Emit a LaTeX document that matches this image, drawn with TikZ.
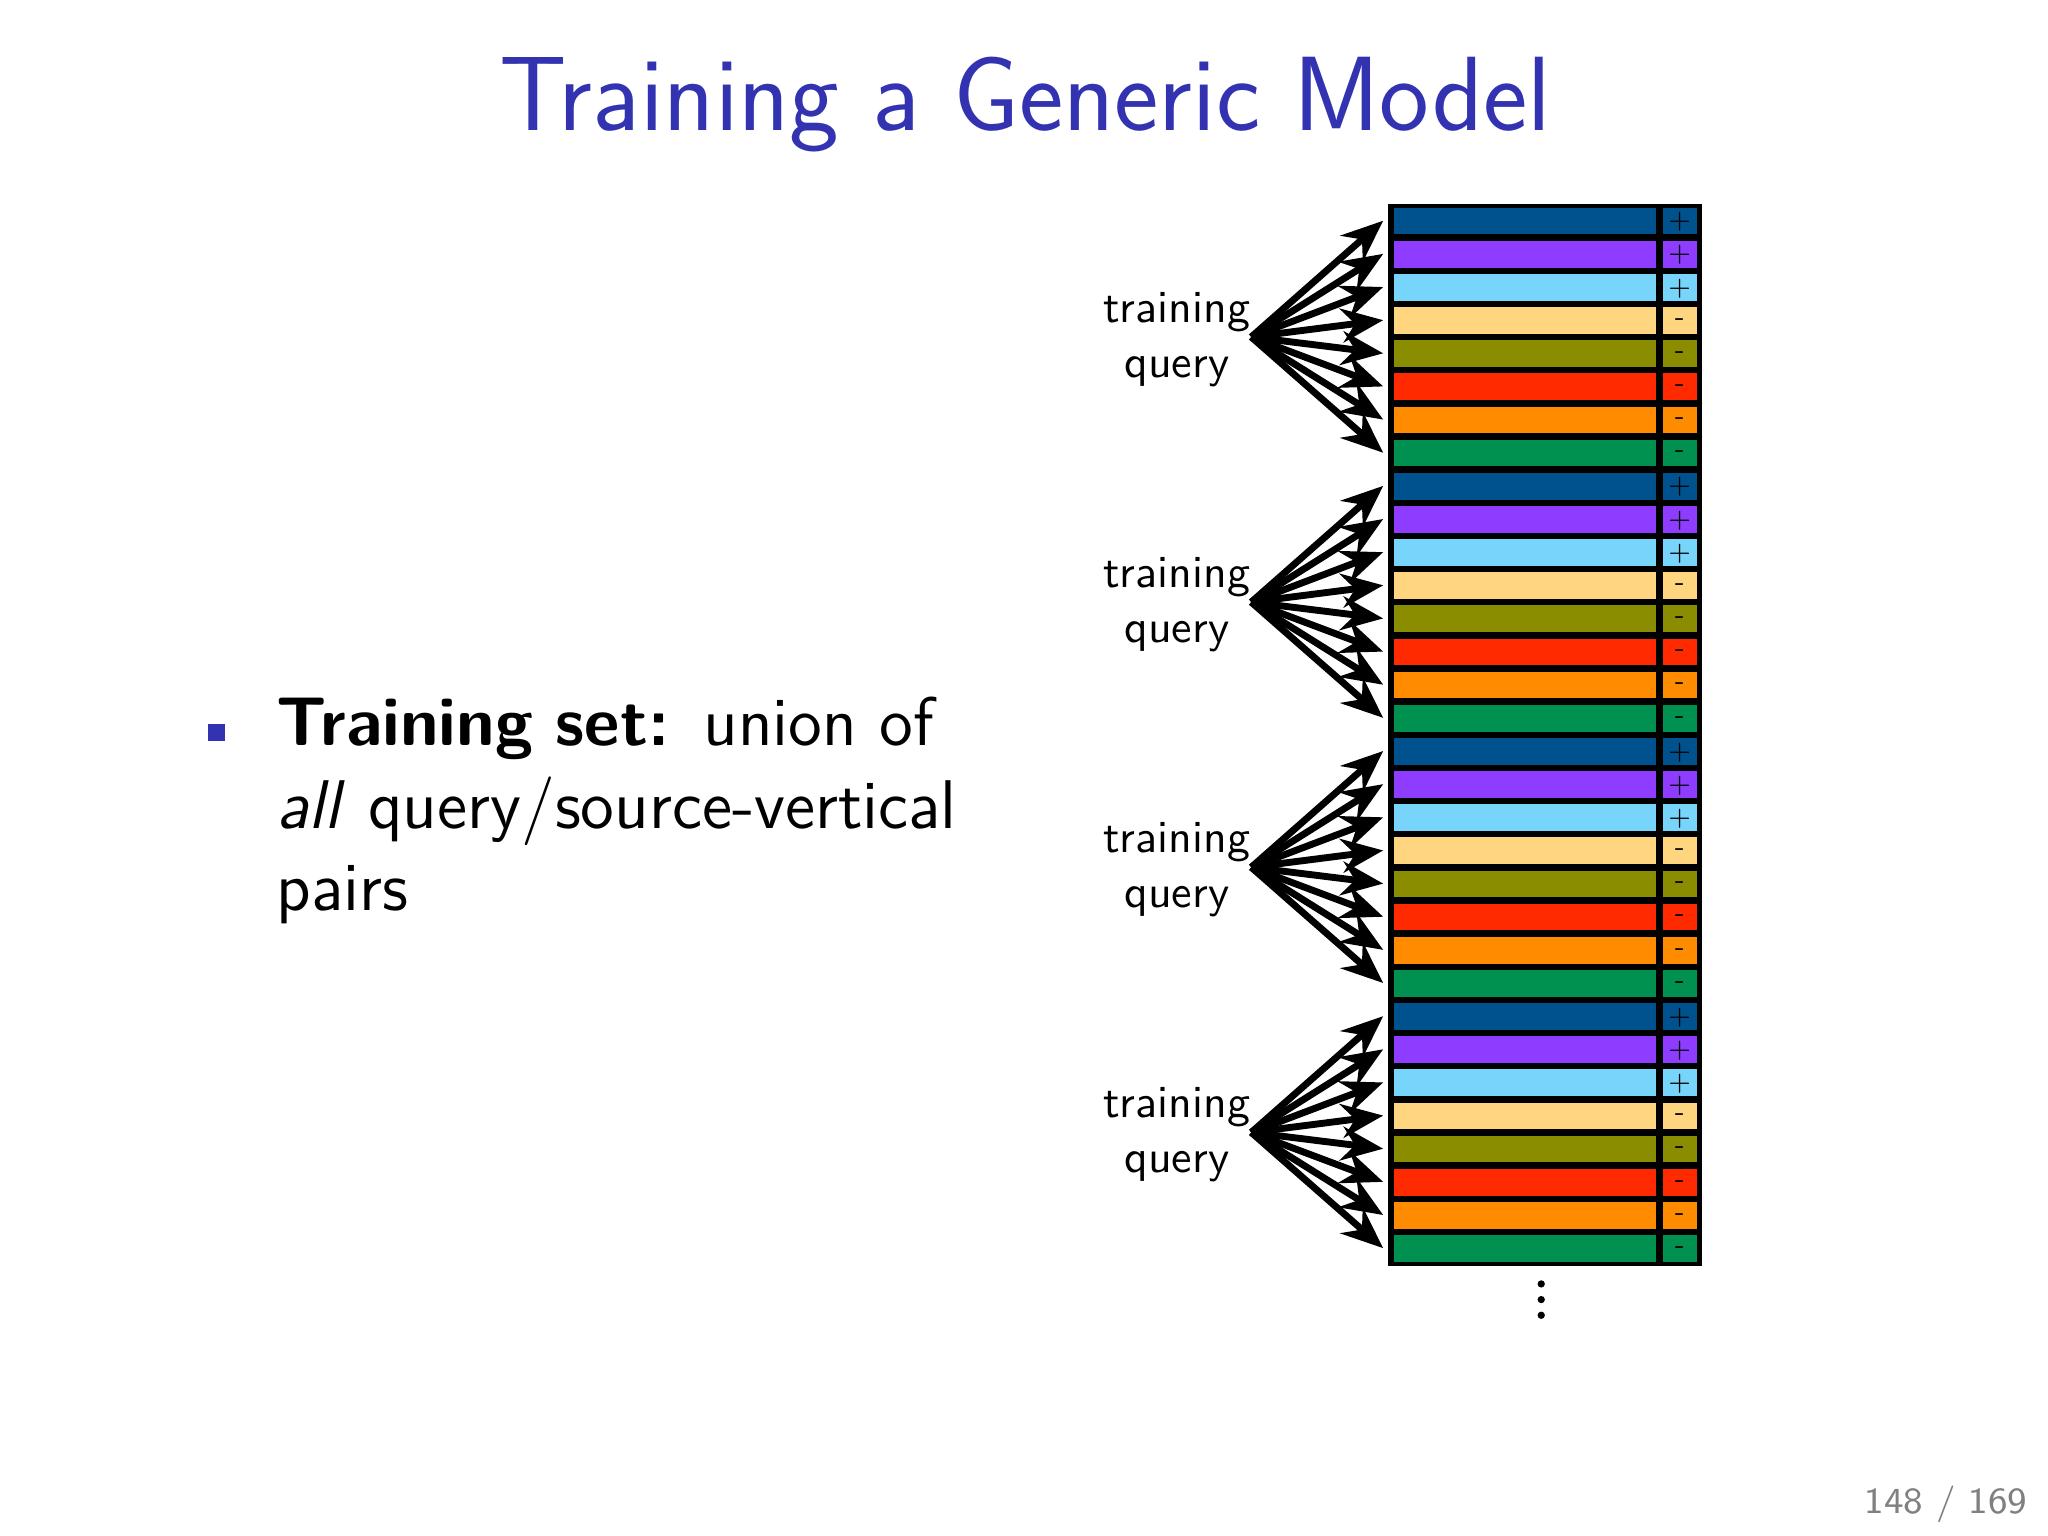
\documentclass[tikz,border=0pt]{standalone}
\usepackage{fontspec}
\usetikzlibrary{arrows.meta}
\definecolor{titleblue}{RGB}{51,51,178}
\definecolor{c0}{RGB}{0,82,143}
\definecolor{c1}{RGB}{142,60,255}
\definecolor{c2}{RGB}{119,212,251}
\definecolor{c3}{RGB}{255,213,128}
\definecolor{c4}{RGB}{139,141,0}
\definecolor{c5}{RGB}{255,42,0}
\definecolor{c6}{RGB}{255,140,0}
\definecolor{c7}{RGB}{0,145,80}
\begin{document}
\begin{tikzpicture}[x=0.01cm,y=-0.01cm,
  arr/.style={-{Stealth[length=3.2mm,width=2.6mm]},line width=1.5pt},
  lbl/.style={font=\sffamily\fontsize{10}{12}\selectfont,align=center},
  sign/.style={font=\fontsize{5}{6}\selectfont,inner sep=0pt}]
\useasboundingbox[fill=white] (0,0) rectangle (1568,1176);
\node[font=\sffamily\fontsize{23}{28}\selectfont,text=titleblue] (title) at (785,80) {Training a Generic Model};
\fill[titleblue] (159,554) rectangle (172,567);
\node[anchor=north west,text width=5.6cm,font=\sffamily\fontsize{15}{18}\selectfont,inner sep=0pt] (txt) at (211,533)
  {\textbf{Training set:} union of \textit{all} query/source-vertical pairs};
\fill[black] (1063,156) rectangle (1303,969);
\foreach \g in {0,...,3}{
  \node[lbl] (q\g) at (901,\g*203+260) {training\\query};
  \coordinate (s\g) at (958,\g*203+258);
  \foreach \i in {0,...,7}{
    \pgfmathsetmacro{\t}{156+(\g*8+\i)*25.375}
    \fill[c\i] (1067,\t+3) rectangle (1268,\t+23.5);
    \fill[c\i] (1273,\t+3) rectangle (1299,\t+23.5);
    \ifnum\i<3 \node[sign] (p\g\i) at (1286,\t+14) {+};
    \else \node[sign] (p\g\i) at (1286,\t+14) {-};\fi
    \coordinate (a\g\i) at (1059,\t+13);
    \draw[arr] (s\g) -- (a\g\i);
  }
}
\foreach \y in {983,995,1007} \fill (1180,\y) circle (2.8);
\node[font=\sffamily\fontsize{8}{10}\selectfont,text=gray] (pg) at (1490,1152) {148 / 169};
\end{tikzpicture}
\end{document}
